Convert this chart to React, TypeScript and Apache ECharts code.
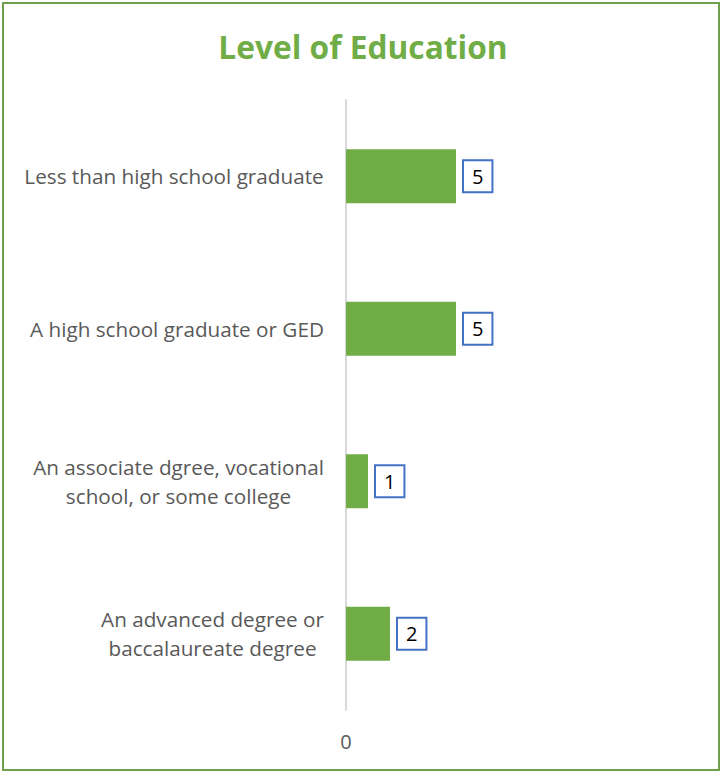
import React, { useEffect, useRef } from "react";
import * as echarts from "echarts";

const categories = [
  "Less than high school graduate",
  "A high school graduate or GED",
  "An associate dgree, vocational\nschool, or some college",
  "An advanced degree or\nbaccalaureate degree",
];
const values = [5, 5, 1, 2];
const axisMin = 0;
const axisMax = 15;
const axisInterval = 15;

const font = "'Open Sans', sans-serif";
const labelSize = 20.7;

function measure(text: string, size: number): number {
  const c = document.createElement("canvas").getContext("2d");
  if (!c) return text.length * size * 0.5;
  c.font = `${size}px ${font}`;
  return c.measureText(text).width;
}

export default function App() {
  const ref = useRef<HTMLDivElement>(null);
  useEffect(() => {
    if (!ref.current) return;
    const chart = echarts.init(ref.current, null, { renderer: "svg" });
    const rich: Record<string, any> = {};
    categories.forEach((cat, i) => {
      const w = Math.max(...cat.split("\n").map((l) => measure(l, labelSize)));
      rich["c" + i] = {
        width: Math.ceil(w),
        align: "center",
        fontFamily: font,
        fontSize: labelSize,
        lineHeight: 29,
        color: "#595959",
      };
    });
    chart.setOption({
      animation: false,
      backgroundColor: "#ffffff",
      title: {
        text: "Level of Education",
        left: "center",
        top: 25,
        textStyle: {
          fontFamily: font,
          fontWeight: "bold",
          fontSize: 31.7,
          color: "#70AD47",
        },
      },
      graphic: [
        {
          type: "rect",
          shape: { x: 3, y: 3, width: 716, height: 767 },
          style: { fill: "none", stroke: "#6E9F4B", lineWidth: 2 },
          silent: true,
        },
      ],
      grid: { left: 346, top: 100, height: 610, width: 330 },
      xAxis: {
        type: "value",
        min: axisMin,
        max: axisMax,
        interval: axisInterval,
        axisLine: { show: false },
        axisTick: { show: false },
        splitLine: { show: false },
        axisLabel: {
          showMaxLabel: false,
          margin: 21,
          fontFamily: font,
          fontSize: 20,
          color: "#595959",
        },
      },
      yAxis: {
        type: "category",
        inverse: true,
        data: categories,
        axisLine: { show: true, lineStyle: { color: "#D9D9D9", width: 2 } },
        axisTick: { show: false },
        axisLabel: {
          margin: 22,
          formatter: (v: string, idx: number) =>
            v
              .split("\n")
              .map((l) => "{c" + idx + "|" + l + "}")
              .join("\n"),
          rich,
        },
      },
      series: [
        {
          type: "bar",
          data: values,
          barWidth: 54,
          itemStyle: { color: "#70AD47" },
          label: {
            show: true,
            position: "right",
            distance: 8,
            fontFamily: font,
            fontSize: 20,
            color: "#000000",
            backgroundColor: "#ffffff",
            borderColor: "#4472C4",
            borderWidth: 2,
            padding: [6, 8, 4, 8],
          },
        },
      ],
    });
    return () => chart.dispose();
  }, []);
  return (
    <div
      ref={ref}
      style={{ position: "fixed", left: 0, top: 0, width: 726, height: 772 }}
    />
  );
}
